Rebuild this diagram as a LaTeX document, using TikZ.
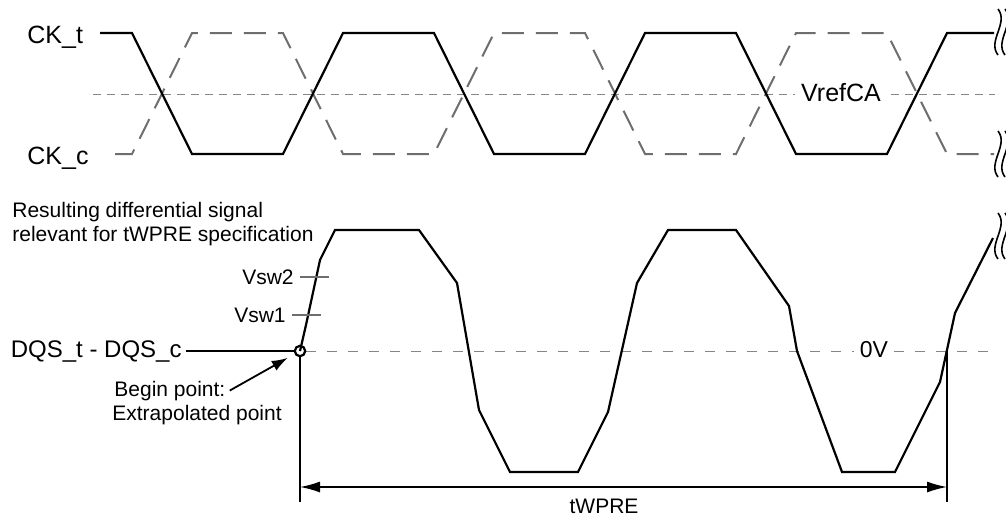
\documentclass[tikz,border=0pt]{standalone}
\usepackage{fontspec}
\setmainfont{Liberation Sans}
\usetikzlibrary{arrows.meta}
\definecolor{clkgray}{HTML}{6E6E6E}
\definecolor{refgray}{HTML}{858585}
\tikzset{
  sig/.style={line width=1.1pt, line join=miter},
  sigc/.style={line width=1pt, clkgray, dash pattern=on 11pt off 6pt},
  refline/.style={line width=0.5pt, refgray, dash pattern=on 4pt off 3.5pt},
  tickmark/.style={line width=1pt, clkgray},
  dimline/.style={line width=0.75pt},
  biglbl/.style={font=\fontsize{12.5}{15}\selectfont, inner sep=0pt},
  smalllbl/.style={font=\fontsize{10.5}{12}\selectfont, inner sep=0pt},
  brkmark/.pic={
    \draw[line width=0.8pt] (0,-23) .. controls (11,-9) and (-11,9) .. (0,23);
    \draw[line width=0.8pt] (7,-23) .. controls (18,-9) and (-4,9) .. (7,23);
  }
}
\begin{document}
\begin{tikzpicture}[x=0.5pt, y=-0.5pt]
      \useasboundingbox (0,0) rectangle (1006,515);
      % clock pair
      \draw[refline, dash pattern=on 4pt off 3pt] (93,94) -- (995,94); % VrefCA level
      \draw[sigc] (115,154) -- (132,154) -- (192,33) -- (283,33) -- (343,154) -- (434,154) -- (494,33) -- (585,33) -- (645,154) -- (736,154) -- (796,33) -- (887,33) -- (947,154) -- (994,154);
      \draw[sig] (100,33) -- (132,33) -- (192,154) -- (283,154) -- (343,33) -- (434,33) -- (494,154) -- (585,154) -- (645,33) -- (736,33) -- (796,154) -- (887,154) -- (947,33) -- (994,33);
      \node[biglbl, anchor=base west] (ckt) at (27,43) {CK\_t};
      \node[biglbl, anchor=base west] (ckc) at (27,164) {CK\_c};
      \node[biglbl, fill=white, inner xsep=3pt, inner ysep=1pt] (vref) at (841,93) {VrefCA};
      \pic at (998,32) {brkmark};
      \pic at (998,154) {brkmark};

      % differential signal
      \coordinate (bp) at (300,351); % begin point
      \coordinate (vsw2e) at (329,277);
      \coordinate (vsw1e) at (321,315);
      \coordinate (vsw1x) at (307.7,315);
      \draw[refline, dash pattern=on 5pt off 5.5pt, shorten <=3pt] (bp) -- (995,351); % 0V level
      \node[biglbl, fill=white, inner xsep=3pt, inner ysep=1pt, font=\fontsize{11.5}{14}\selectfont] (zerov) at (874,350) {0V};
      \draw[refline, dash pattern=on 2pt off 1pt] (bp) -- (vsw1x);
      \draw[sig] (bp) -- (306,325) -- (320,260) -- (335,230) -- (419,230) -- (457,283) -- (479,410) -- (510,472) -- (578,472) -- (608,412) -- (637,283) -- (668,230) -- (736,230) -- (789,306) -- (797,351) -- (842,472) -- (895,472) -- (940,382) -- (955,313) -- (993,238);
      \pic at (998,236) {brkmark};
      \draw[line width=1.1pt] (bp) circle[radius=2.6pt];
      \node[biglbl, anchor=east, inner xsep=2pt, font=\fontsize{12}{14}\selectfont] (dqs) at (186,351) {DQS\_t - DQS\_c};
      \draw[sig, shorten >=2.8pt] (dqs) -- (bp);
      \node[smalllbl, anchor=east, inner xsep=3pt] (vsw2) at (300,277) {Vsw2};
      \node[smalllbl, anchor=east, inner xsep=3pt] (vsw1) at (292,315) {Vsw1};
      \draw[tickmark] (vsw2) -- (vsw2e);
      \draw[tickmark] (vsw1) -- (vsw1e);
      \node[smalllbl, anchor=north west, align=left] (resdiff) at (12,202) {Resulting differential signal\\relevant for tWPRE specification};
      \node[smalllbl, anchor=base west, inner xsep=2pt] (beg) at (110,396) {Begin point:};
      \node[smalllbl, anchor=base west] (extra) at (112,420) {Extrapolated point};
      \draw[line width=0.9pt, -{Latex[length=8pt,width=5.5pt]}, shorten >=7pt] (beg.east) -- (bp);

      % tWPRE dimension
      \coordinate (lfoot) at (300,502);
      \coordinate (rtop) at (947,351);
      \coordinate (rfoot) at (947,502);
      \coordinate (dl) at (300,487);
      \coordinate (dr) at (947,487);
      \draw[dimline, shorten <=2.8pt] (bp) -- (lfoot);
      \draw[dimline] (rtop) -- (rfoot);
      \draw[dimline, {Latex[length=10pt,width=5.5pt]}-{Latex[length=10pt,width=5.5pt]}] (dl) -- (dr);
      \node[smalllbl, anchor=base] (twpre) at (604,513) {tWPRE};
    \end{tikzpicture}
\end{document}
